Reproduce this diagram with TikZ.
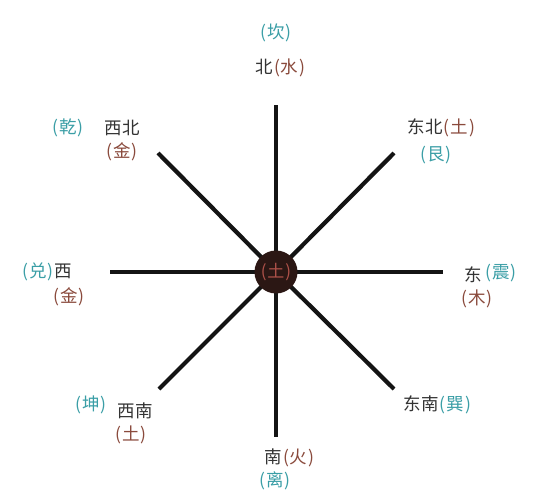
\documentclass[tikz,border=0pt]{standalone}
\usepackage{fontspec}
\newfontfamily\cjk{Noto Sans CJK SC}
\definecolor{teal1}{HTML}{3A9EA6}
\definecolor{brn}{HTML}{8A4A3C}
\definecolor{txt}{HTML}{333333}
\definecolor{hub}{HTML}{2B1714}
\definecolor{hubtxt}{HTML}{B0524A}
\newcommand{\lp}{\kern1pt(\kern1pt}
\newcommand{\rp}{\kern1pt)\kern1pt}
\begin{document}
\begin{tikzpicture}[x=1pt,y=-1pt,
  spoke/.style={line width=4.2pt,color=black!92},
  lbl/.style={font=\cjk\fontsize{17.5}{19}\selectfont,text=txt,inner sep=0pt},
  gua/.style={text=teal1},
  wx/.style={text=brn}]
\useasboundingbox (0,0) rectangle (552,503);
\fill[white] (0,0) rectangle (552,503);
\coordinate (c) at (276,272);
\coordinate (n) at (276,105);
\coordinate (s) at (276,437);
\coordinate (w) at (110,272);
\coordinate (e) at (443,272);
\coordinate (nw) at (158,153);
\coordinate (ne) at (394,153);
\coordinate (sw) at (159,389);
\coordinate (se) at (394,389);
\foreach \p in {n,s,w,e,nw,ne,sw,se} \draw[spoke] (c) -- (\p);
\node[circle,fill=hub,minimum size=43pt,inner sep=0pt,text=hubtxt,font=\cjk\fontsize{17}{19}\selectfont] (hub) at (c) {\lp 土\rp};
% north
\node[lbl,gua] (kan) at (276,33) {\lp 坎\rp};
\node[lbl] (bei) at (281,68) {北\textcolor{brn}{\lp 水\rp}};
% northwest
\node[lbl,gua] (qian) at (68,128) {\lp 乾\rp};
\node[lbl] (xibei) at (122,128) {西北};
\node[lbl,wx] (jin1) at (122,152) {\lp 金\rp};
% northeast
\node[lbl] (dongbei) at (442,128) {东北\textcolor{brn}{\lp 土\rp}};
\node[lbl,gua] (gen) at (436,155) {\lp 艮\rp};
% west
\node[lbl] (xi) at (47,272) {\textcolor{teal1}{\lp 兑\rp}西};
\node[lbl,wx] (jin2) at (69,297) {\lp 金\rp};
% east
\node[lbl] (dong) at (473,275) {东};
\node[lbl,gua] (zhen) at (501,273) {\lp 震\rp};
\node[lbl,wx] (mu) at (477,299) {\lp 木\rp};
% southwest
\node[lbl,gua] (kun) at (91,405) {\lp 坤\rp};
\node[lbl] (xinan) at (135,411) {西南};
\node[lbl,wx] (tu) at (131,435) {\lp 土\rp};
% southeast
\node[lbl] (dongnan) at (438,405) {东南\textcolor{teal1}{\lp 巽\rp}};
% south
\node[lbl] (nan) at (290,458) {南\textcolor{brn}{\lp 火\rp}};
\node[lbl,gua] (li) at (275,481) {\lp 离\rp};
\end{tikzpicture}
\end{document}
